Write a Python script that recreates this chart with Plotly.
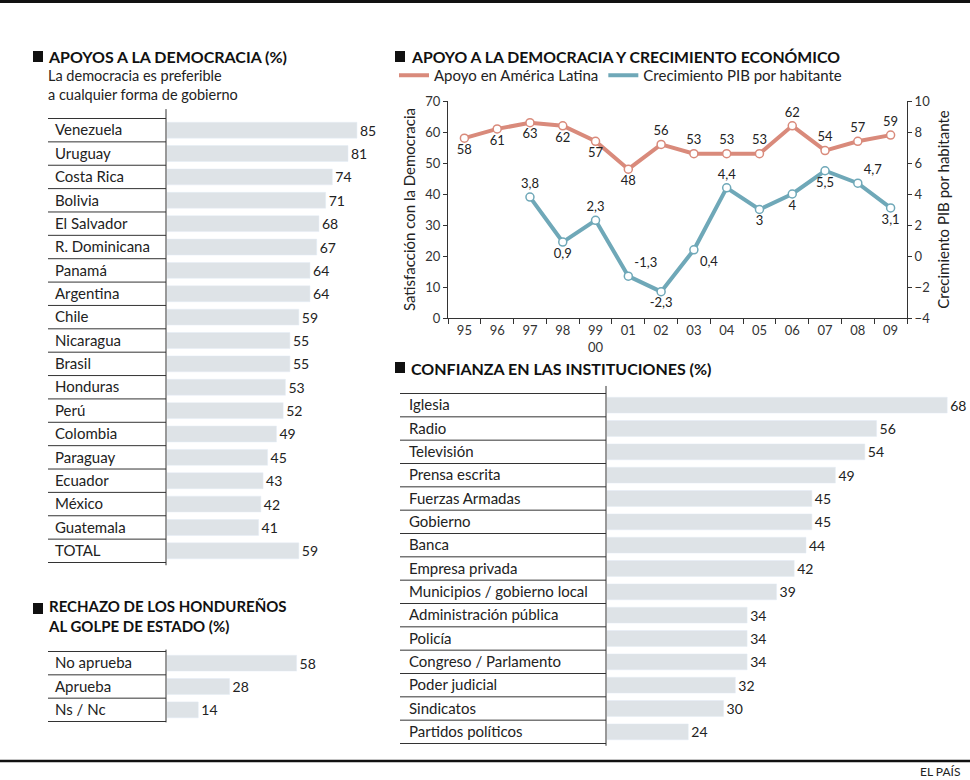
import plotly.graph_objects as go

# ---------------- data ----------------
countries = ["Venezuela", "Uruguay", "Costa Rica", "Bolivia", "El Salvador", "R. Dominicana",
             "Panamá", "Argentina", "Chile", "Nicaragua", "Brasil", "Honduras", "Perú",
             "Colombia", "Paraguay", "Ecuador", "México", "Guatemala", "TOTAL"]
support = [85, 81, 74, 71, 68, 67, 64, 64, 59, 55, 55, 53, 52, 49, 45, 43, 42, 41, 59]

coup_answers = ["No aprueba", "Aprueba", "Ns / Nc"]
coup_values = [58, 28, 14]

years = ["95", "96", "97", "98", "99/00", "01", "02", "03", "04", "05", "06", "07", "08", "09"]
support_latam = [58, 61, 63, 62, 57, 48, 56, 53, 53, 53, 62, 54, 57, 59]
gdp_growth = [None, None, 3.8, 0.9, 2.3, -1.3, -2.3, 0.4, 4.4, 3, 4, 5.5, 4.7, 3.1]

institutions = ["Iglesia", "Radio", "Televisión", "Prensa escrita", "Fuerzas Armadas", "Gobierno",
                "Banca", "Empresa privada", "Municipios / gobierno local", "Administración pública",
                "Policía", "Congreso / Parlamento", "Poder judicial", "Sindicatos", "Partidos políticos"]
trust = [68, 56, 54, 49, 45, 45, 44, 42, 39, 34, 34, 34, 32, 30, 24]

# ---------------- styles ----------------
W, H = 970, 780
FONT = "Lato"
BAR = "#dee3e7"
RED = "#d98a7b"
BLUE = "#6fa8b8"
INK = "#222222"
red_pos = ["bottom center"] * 6 + ["top center"] * 8
blue_pos = ["top center", "top center", "top center", "bottom center", "top center", "top right",
            "bottom center", "bottom right", "top center", "bottom center", "bottom center",
            "bottom center", "top right", "bottom center"]


def px(x):
    return x / W


def py(y):
    return 1 - y / H


def fmt(v):
    return "" if v is None else str(v).replace(".", ",")


fig = go.Figure()

# Panel 1: support for democracy
fig.add_trace(go.Bar(x=support, y=countries, orientation="h", xaxis="x", yaxis="y",
                     marker_color=BAR, width=0.68, text=support, textposition="outside",
                     textfont=dict(size=14, color=INK), constraintext="none", cliponaxis=False,
                     showlegend=False, hoverinfo="skip"))
# Panel 2: coup rejection
fig.add_trace(go.Bar(x=coup_values, y=coup_answers, orientation="h", xaxis="x2", yaxis="y2",
                     marker_color=BAR, width=0.68, text=coup_values, textposition="outside",
                     textfont=dict(size=14, color=INK), constraintext="none", cliponaxis=False,
                     showlegend=False, hoverinfo="skip"))
# Panel 3: lines
fig.add_trace(go.Scatter(x=years, y=support_latam, mode="lines", xaxis="x3", yaxis="y3",
                         line=dict(color=RED, width=4), name="Apoyo en América Latina"))
fig.add_trace(go.Scatter(x=years, y=gdp_growth, mode="lines", xaxis="x3", yaxis="y4",
                         line=dict(color=BLUE, width=4), name="Crecimiento PIB por habitante"))
fig.add_trace(go.Scatter(x=years, y=support_latam, mode="markers+text", xaxis="x3", yaxis="y3",
                         marker=dict(size=8, color="white", line=dict(color=RED, width=1.5)),
                         text=[fmt(v) for v in support_latam], textposition=red_pos,
                         textfont=dict(size=13, color=INK), cliponaxis=False, showlegend=False))
fig.add_trace(go.Scatter(x=years, y=gdp_growth, mode="markers+text", xaxis="x3", yaxis="y4",
                         marker=dict(size=8, color="white", line=dict(color=BLUE, width=1.5)),
                         text=[fmt(v) for v in gdp_growth], textposition=blue_pos,
                         textfont=dict(size=13, color=INK), cliponaxis=False, showlegend=False))
# Panel 4: trust in institutions
fig.add_trace(go.Bar(x=trust, y=institutions, orientation="h", xaxis="x4", yaxis="y5",
                     marker_color=BAR, width=0.68, text=trust, textposition="outside",
                     textfont=dict(size=14, color=INK), constraintext="none", cliponaxis=False,
                     showlegend=False, hoverinfo="skip"))

label_font = dict(family=FONT, size=15, color=INK)
tick_font = dict(family=FONT, size=13, color="#333")

fig.update_layout(
    width=W, height=H, autosize=False,
    margin=dict(l=0, r=0, t=0, b=0, pad=0),
    paper_bgcolor="white", plot_bgcolor="white",
    font=dict(family=FONT, color=INK),
    xaxis=dict(domain=[px(167), px(390)], range=[0, 99.8], visible=False, anchor="y",
               automargin=False),
    yaxis=dict(domain=[py(563), py(118)], anchor="free", position=px(48), side="right",
               type="category", categoryarray=countries, autorange="reversed",
               showgrid=False, showline=False, ticks="", tickfont=label_font,
               ticklabelstandoff=6, zeroline=False, automargin=False),
    xaxis2=dict(domain=[px(167), px(390)], range=[0, 99.8], visible=False, anchor="y2",
                automargin=False),
    yaxis2=dict(domain=[py(722), py(651)], anchor="free", position=px(48), side="right",
                type="category", categoryarray=coup_answers, autorange="reversed",
                showgrid=False, showline=False, ticks="", tickfont=label_font,
                ticklabelstandoff=6, zeroline=False, automargin=False),
    xaxis3=dict(domain=[px(448), px(907)], anchor="y3", type="category",
                categoryarray=years, range=[-0.5, len(years) - 0.5],
                tickmode="array", tickvals=years, ticktext=[y.replace("/", "<br>") for y in years],
                tickson="boundaries", ticks="outside", ticklen=5, tickcolor="#333",
                showline=True, linecolor="#333", linewidth=1, showgrid=False,
                tickfont=tick_font, automargin=False),
    yaxis3=dict(domain=[py(318), py(101)], anchor="x3", range=[0, 70], dtick=10,
                ticks="outside", ticklen=4, tickcolor="#333", showline=True,
                linecolor="#333", linewidth=1, showgrid=False, zeroline=False,
                tickfont=tick_font, automargin=False,
                title=dict(text="Satisfacción con la Democracia",
                           font=dict(family=FONT, size=15, color=INK), standoff=6)),
    yaxis4=dict(overlaying="y3", side="right", anchor="x3", range=[-4, 10], dtick=2,
                ticks="outside", ticklen=4, tickcolor="#333", showline=True,
                linecolor="#333", linewidth=1, showgrid=False, zeroline=False,
                tickfont=tick_font, automargin=False,
                title=dict(text="Crecimiento PIB por habitante",
                           font=dict(family=FONT, size=15, color=INK), standoff=9)),
    xaxis4=dict(domain=[px(607), 1], range=[10.19, 71.87], visible=False, anchor="y5",
                automargin=False),
    yaxis5=dict(domain=[py(744), py(393)], anchor="free", position=px(400), side="right",
                type="category", categoryarray=institutions, autorange="reversed",
                showgrid=False, showline=False, ticks="", tickfont=label_font,
                ticklabelstandoff=8, zeroline=False, automargin=False),
    legend=dict(orientation="h", x=px(394), y=py(59), xanchor="left", yanchor="top",
                font=dict(family=FONT, size=15, color=INK), bgcolor="rgba(0,0,0,0)",
                itemwidth=30, tracegroupgap=0),
)

shapes = []
line_style = dict(color="#333", width=1)
# table separators
for yref, cats, x0, x1 in [("y", countries, 48, 166), ("y2", coup_answers, 48, 166),
                           ("y5", institutions, 400, 606)]:
    for i in range(len(cats) + 1):
        shapes.append(dict(type="line", xref="paper", yref=yref, x0=px(x0), x1=px(x1),
                           y0=i - 0.5, y1=i - 0.5, line=line_style))
    shapes.append(dict(type="line", xref="paper", yref=yref + " domain", x0=px(x1), x1=px(x1),
                       y0=-0.005, y1=1.02, line=line_style))
# title bullets
for (x0, y0) in [(33, 51), (395, 51), (33, 603), (395, 362)]:
    shapes.append(dict(type="rect", xref="paper", yref="paper", x0=px(x0), x1=px(x0 + 10),
                       y0=py(y0), y1=py(y0 + 11), fillcolor="#111", line=dict(width=0)))
# top and bottom rules
shapes.append(dict(type="line", xref="paper", yref="paper", x0=0, x1=1, y0=py(1.5), y1=py(1.5),
                   line=dict(color="#111", width=3)))
shapes.append(dict(type="line", xref="paper", yref="paper", x0=0, x1=1, y0=py(761), y1=py(761),
                   line=dict(color="#111", width=2.5)))
fig.update_layout(shapes=shapes)

title_font = dict(family=FONT, size=16, color="#111", weight="bold")
sub_font = dict(family=FONT, size=15.5, color=INK)
annotations = [
    dict(text="APOYOS A LA DEMOCRACIA (%)", x=px(46), y=py(57), font=title_font),
    dict(text="La democracia es preferible<br>a cualquier forma de gobierno", x=px(46), y=py(85),
         font=dict(family=FONT, size=14.5, color=INK), align="left"),
    dict(text="APOYO A LA DEMOCRACIA Y CRECIMIENTO ECONÓMICO", x=px(409), y=py(57),
         font=dict(family=FONT, size=15.8, color="#111", weight="bold")),
    dict(text="RECHAZO DE LOS HONDUREÑOS<br>AL GOLPE DE ESTADO (%)", x=px(46), y=py(616),
         font=dict(family=FONT, size=15, color="#111", weight="bold"), align="left"),
    dict(text="CONFIANZA EN LAS INSTITUCIONES (%)", x=px(409), y=py(368), font=title_font),
]
for a in annotations:
    a.update(xref="paper", yref="paper", xanchor="left", yanchor="middle", showarrow=False)
annotations.append(dict(text="EL PAÍS", xref="paper", yref="paper", x=px(962), y=py(771),
                        xanchor="right", yanchor="middle", showarrow=False,
                        font=dict(family=FONT, size=12, color=INK)))
fig.update_layout(annotations=annotations)

fig.write_html("out.html", config={"displayModeBar": False},
               post_script="document.body.style.margin='0';")
